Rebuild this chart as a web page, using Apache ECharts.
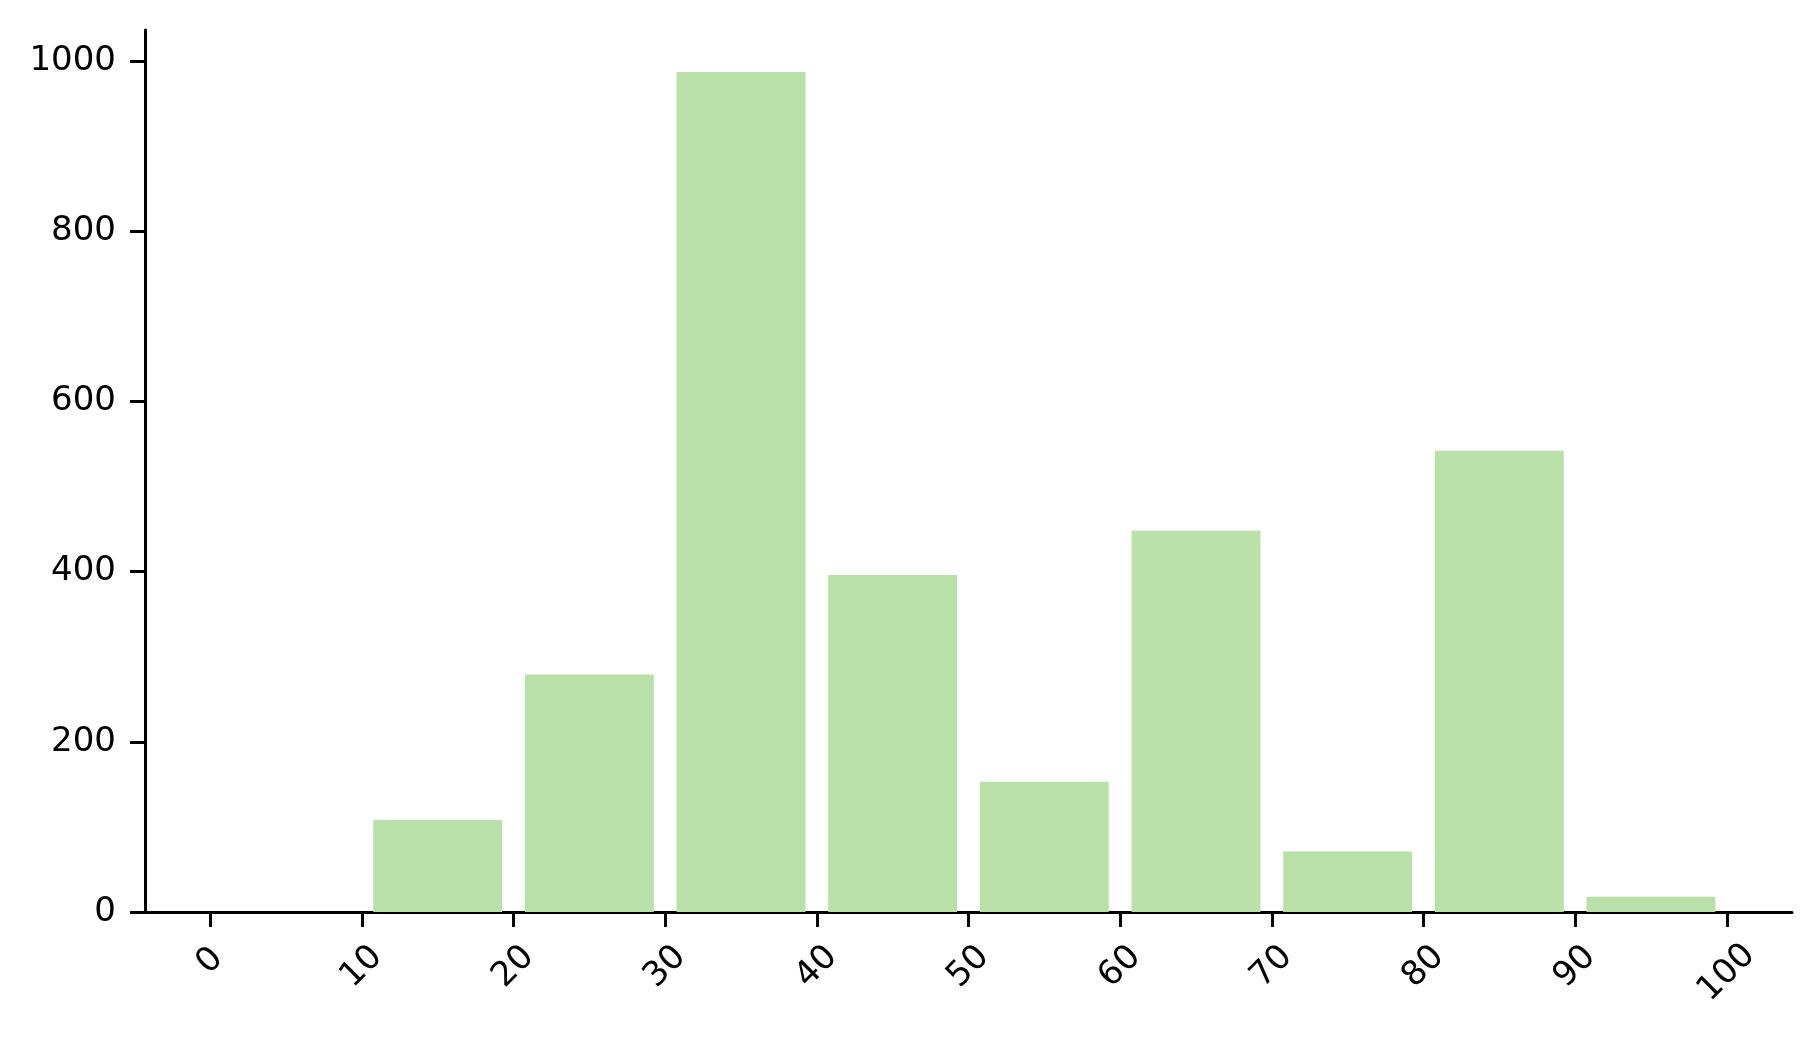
<!DOCTYPE html>
<html>
<head>
<meta charset="utf-8">
<script src="https://cdn.jsdelivr.net/npm/echarts@6.0.0/dist/echarts.min.js"></script>
<style>
  html, body { margin: 0; padding: 0; background: #fff; }
  #chart { width: 1820px; height: 1040px; }
</style>
</head>
<body>
<div id="chart"></div>
<script>
// histogram bins (edges) and counts
var binEdges = [0, 10, 20, 30, 40, 50, 60, 70, 80, 90, 100];
var counts = [0, 108, 279, 987, 396, 153, 448, 71, 542, 18];
var xTicks = [0, 10, 20, 30, 40, 50, 60, 70, 80, 90, 100];
var yTicks = [0, 200, 400, 600, 800, 1000];

var barColor = '#b8e0a8';
var rwidth = 0.85; //柱宽占箱宽比例
var labelFont = 34;

// 组装自定义系列数据 [左边界, 右边界, 计数]
var histData = [];
for (var i = 0; i < counts.length; i++) {
	histData.push([binEdges[i], binEdges[i + 1], counts[i]]);
}
var maxCount = Math.max.apply(null, counts);

// 旋转标签：位数越多中心越往下（模拟顶端对齐）
var digitShift = 6;
var rich = {};
for (var n = 1; n <= 3; n++) {
	var p = Math.SQRT2 * digitShift * (n - 1);
	rich['d' + n] = {
		fontSize: labelFont,
		fontFamily: 'DejaVu Sans',
		color: '#000',
		padding: [p, p, 0, 0]
	};
}

var myChart = echarts.init(document.getElementById('chart'));

var option = {
	backgroundColor: '#fff',
	animation: false,
	textStyle: { fontFamily: 'DejaVu Sans' },
	grid: { left: 145, right: 28, top: 30, bottom: 128 },
	xAxis: {
		type: 'value',
		min: -4.3,
		max: 104.3,
		splitLine: { show: false },
		axisLine: { show: true, onZero: false, lineStyle: { color: '#000', width: 3 } },
		axisTick: { show: true, customValues: xTicks, length: 15, lineStyle: { color: '#000', width: 3 } },
		axisLabel: {
			customValues: xTicks,
			rotate: 45,
			align: 'center',
			verticalAlign: 'middle',
			margin: 49,
			formatter: function(v) {
				var s = String(v);
				return '{d' + s.length + '|' + s + '}';
			},
			rich: rich
		}
	},
	yAxis: {
		type: 'value',
		min: 0,
		max: maxCount * 1.05,
		splitLine: { show: false },
		axisLine: { show: true, onZero: false, lineStyle: { color: '#000', width: 3 } },
		axisTick: { show: true, customValues: yTicks, length: 15, lineStyle: { color: '#000', width: 3 } },
		axisLabel: {
			customValues: yTicks,
			margin: 29,
			color: '#000',
			fontSize: labelFont,
			fontFamily: 'DejaVu Sans',
			formatter: function(v) { return String(v); }
		}
	},
	series: [{
		type: 'custom',
		data: histData,
		encode: { x: [0, 1], y: 2 },
		renderItem: function(params, api) {
			var x0 = api.value(0), x1 = api.value(1), h = api.value(2);
			var mid = (x0 + x1) / 2, w = (x1 - x0) * rwidth;
			var p0 = api.coord([mid - w / 2, h]);
			var p1 = api.coord([mid + w / 2, 0]);
			return {
				type: 'rect',
				shape: { x: p0[0], y: p0[1], width: p1[0] - p0[0], height: p1[1] - p0[1] },
				style: { fill: barColor }
			};
		}
	}]
};

myChart.setOption(option);
</script>
</body>
</html>
